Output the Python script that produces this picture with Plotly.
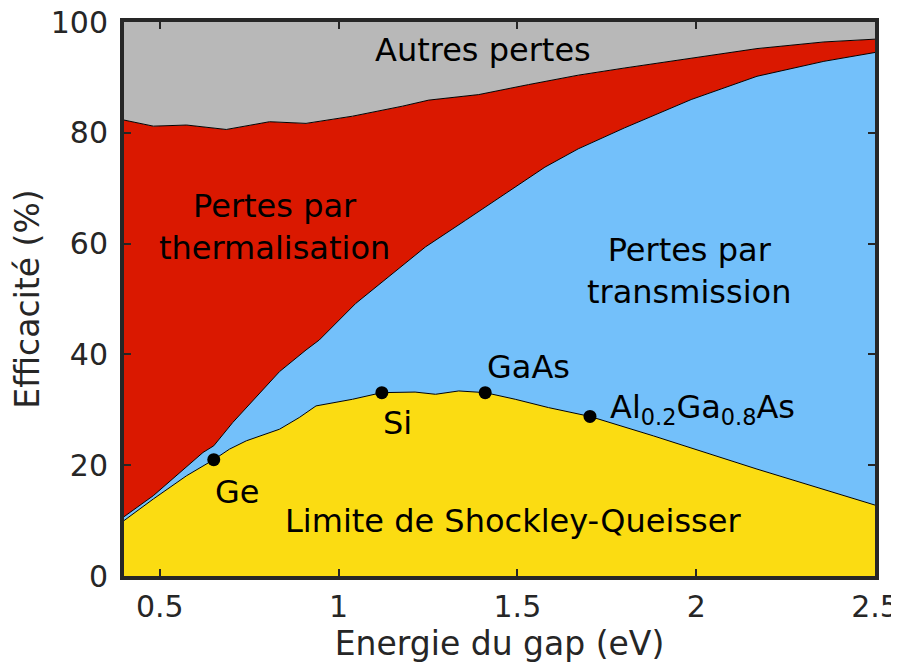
import plotly.graph_objects as go

# Shockley-Queisser limit (bottom, yellow)
E_sq = [0.40, 0.482, 0.575, 0.651, 0.695, 0.742, 0.835, 0.890, 0.937, 1.039, 1.121, 1.214, 1.271, 1.336, 1.41, 1.494, 1.587, 1.703, 1.88, 2.17, 2.5]
sq = [10.0, 13.9, 18.1, 21.0, 22.9, 24.4, 26.5, 28.6, 30.7, 31.9, 33.1, 33.2, 32.8, 33.4, 33.1, 31.9, 30.4, 28.8, 25.3, 19.3, 12.8]

# Upper limit of transmission losses (blue)
E_tr = [0.40, 0.482, 0.621, 0.651, 0.704, 0.797, 0.835, 0.909, 0.946, 1.048, 1.15, 1.243, 1.355, 1.466, 1.577, 1.67, 1.80, 1.986, 2.17, 2.357, 2.5]
tr = [10.7, 14.5, 22.3, 23.5, 27.7, 34.3, 36.9, 40.8, 42.6, 49.2, 54.6, 59.4, 64.2, 69.0, 73.8, 77.1, 80.9, 86.0, 90.2, 92.9, 94.5]

# Upper limit of thermalisation losses (red)
E_th = [0.40, 0.482, 0.575, 0.686, 0.807, 0.909, 1.039, 1.113, 1.178, 1.252, 1.392, 1.531, 1.67, 1.80, 1.986, 2.17, 2.357, 2.5]
th = [82.3, 81.2, 81.4, 80.6, 82.0, 81.7, 83.0, 83.9, 84.8, 85.9, 86.9, 88.7, 90.4, 91.7, 93.5, 95.2, 96.4, 96.9]

E_top = [0.40, 2.5]
top = [100, 100]

materials = ["Ge", "Si", "GaAs", "Al<sub>0.2</sub>Ga<sub>0.8</sub>As"]
E_mat = [0.651, 1.121, 1.41, 1.703]
eff_mat = [21.0, 33.1, 33.1, 28.8]

x_ticks = [0.5, 1, 1.5, 2, 2.5]
x_ticklabels = ["0.5", "1", "1.5", "2", "2.5"]
y_ticks = [0, 20, 40, 60, 80, 100]

YELLOW = "rgb(251,220,18)"
BLUE = "rgb(115,192,250)"
RED = "rgb(218,24,0)"
GRAY = "rgb(184,184,184)"
AXC = "#262626"
FONT = "DejaVu Sans"

fig = go.Figure()
fig.add_trace(go.Scatter(x=E_sq, y=sq, mode="lines", fill="tozeroy", fillcolor=YELLOW,
                         line=dict(color="black", width=1), showlegend=False, hoverinfo="skip"))
fig.add_trace(go.Scatter(x=E_tr, y=tr, mode="lines", fill="tonexty", fillcolor=BLUE,
                         line=dict(color="black", width=1), showlegend=False, hoverinfo="skip"))
fig.add_trace(go.Scatter(x=E_th, y=th, mode="lines", fill="tonexty", fillcolor=RED,
                         line=dict(color="black", width=1), showlegend=False, hoverinfo="skip"))
fig.add_trace(go.Scatter(x=E_top, y=top, mode="lines", fill="tonexty", fillcolor=GRAY,
                         line=dict(color=GRAY, width=0), showlegend=False, hoverinfo="skip"))
fig.add_trace(go.Scatter(x=E_mat, y=eff_mat, mode="markers", text=materials,
                         marker=dict(color="black", size=13), showlegend=False))

ann_font = dict(family=FONT, size=32, color="black")
labels = [
    ("Autres pertes", 1.404, 94.9, "center"),
    ("Pertes par<br>thermalisation", 0.821, 63.0, "center"),
    ("Pertes par<br>transmission", 1.981, 55.1, "center"),
    ("Limite de Shockley-Queisser", 1.489, 9.9, "center"),
    (materials[0], 0.715, 15.2, "center"),
    (materials[1], 1.164, 27.6, "center"),
    (materials[2], 1.532, 37.7, "center"),
    (materials[3], 1.752, 30.2, "left"),
]
for txt, x, y, xa in labels:
    fig.add_annotation(x=x, y=y, text=txt, showarrow=False, xanchor=xa, yanchor="middle",
                       font=ann_font, align="center")

axis_common = dict(showline=True, linewidth=4, linecolor=AXC, mirror="ticks",
                   ticks="inside", ticklen=7, tickwidth=2, tickcolor=AXC,
                   showgrid=False, zeroline=False, automargin=False,
                   ticklabeloverflow="allow",
                   tickfont=dict(family=FONT, size=30, color=AXC))

# page body has an 8px margin: figure is sized/offset to compensate
fig.update_layout(
    width=891, height=659,
    margin=dict(l=116, r=24, t=14, b=91),
    paper_bgcolor="white", plot_bgcolor="white",
    font=dict(family=FONT, color=AXC),
    xaxis=dict(range=[0.4, 2.5], tickvals=x_ticks, ticktext=x_ticklabels, ticklabelstandoff=1,
               title=dict(text="Energie du gap (eV)", font=dict(family=FONT, size=33, color=AXC), standoff=0),
               **axis_common),
    yaxis=dict(range=[0, 100], tickvals=y_ticks, ticklabelstandoff=6,
               title=dict(text="Efficacité (%)", font=dict(family=FONT, size=33, color=AXC), standoff=4),
               **axis_common),
)

fig.write_html("out.html")
